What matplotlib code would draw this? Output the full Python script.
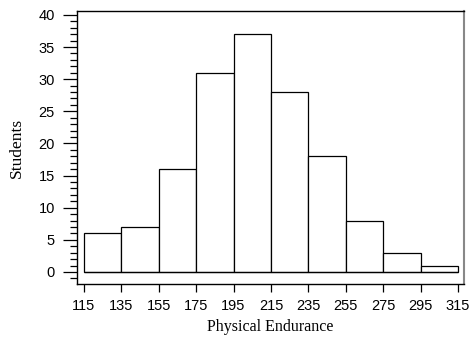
import numpy as np
import matplotlib
matplotlib.use("Agg")
import matplotlib.pyplot as plt
from matplotlib.ticker import MultipleLocator

# histogram data
bin_edges = [115, 135, 155, 175, 195, 215, 235, 255, 275, 295, 315]
students = [6, 7, 16, 31, 37, 28, 18, 8, 3, 1]
x_ticks = [115, 135, 155, 175, 195, 215, 235, 255, 275, 295, 315]
y_ticks = [0, 5, 10, 15, 20, 25, 30, 35, 40]

fig = plt.figure(figsize=(4.71, 3.41), dpi=100)
ax = fig.add_axes([0.1635, 0.1672, 0.8215, 0.8005])

widths = np.diff(bin_edges)
ax.bar(bin_edges[:-1], students, width=widths, align='edge',
       color='white', edgecolor='black', linewidth=0.9)
ax.hlines(0, bin_edges[0], bin_edges[-1], color='black', linewidth=0.9)

ax.set_xlim(111.3, 318.2)
ax.set_ylim(-1.87, 40.6)
ax.set_xticks(x_ticks)
ax.set_yticks(y_ticks)
ax.yaxis.set_minor_locator(MultipleLocator(1))

ax.tick_params(axis='y', which='major', direction='out', length=10, width=0.9, pad=6)
ax.tick_params(axis='y', which='minor', direction='out', length=5, width=0.9)
ax.tick_params(axis='x', which='major', direction='out', length=6, width=0.9, pad=5)

for lbl in ax.get_xticklabels() + ax.get_yticklabels():
    lbl.set_family('Liberation Sans')
    lbl.set_fontsize(10.5)

for side in ['left', 'top', 'bottom']:
    ax.spines[side].set_linewidth(1.0)
ax.spines['right'].set_linewidth(1.5)
ax.spines['right'].set_color('#888888')

ax.set_xlabel('Physical Endurance', family='Liberation Serif', fontsize=11.5, labelpad=4)
ax.set_ylabel('Students', family='Liberation Serif', fontsize=12.5, labelpad=10)

fig.savefig('out.png', dpi=100)
